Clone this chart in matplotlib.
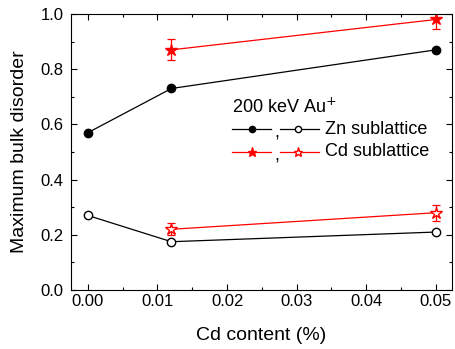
import matplotlib.pyplot as plt
from matplotlib.ticker import MultipleLocator

plt.rcParams['font.family'] = ['Liberation Sans', 'DejaVu Sans']

# Data
cd_content = [0.0, 0.012, 0.05]
zn_max = [0.57, 0.73, 0.87]
zn_low = [0.27, 0.175, 0.21]

cd_x = [0.012, 0.05]
cd_max = [0.87, 0.98]
cd_max_err = [0.038, 0.035]
cd_low = [0.22, 0.28]
cd_low_err = [0.022, 0.029]

fig, ax = plt.subplots(figsize=(4.55, 3.49), dpi=100)
fig.subplots_adjust(left=0.155, right=0.993, top=0.960, bottom=0.169)

# Zn sublattice
ax.plot(cd_content, zn_max, "-o", color="black", lw=0.9, ms=6, mfc="black")
ax.plot(cd_content, zn_low, "-o", color="black", lw=0.9, ms=6, mfc="white")

# Cd sublattice with error bars
ax.errorbar(cd_x, cd_max, yerr=cd_max_err, fmt="-*", color="red", lw=0.9,
            ms=9, mfc="red", capsize=3, elinewidth=0.9, capthick=0.9)
ax.errorbar(cd_x, cd_low, yerr=cd_low_err, fmt="-*", color="red", lw=0.9,
            ms=9, mfc="white", capsize=3, elinewidth=0.9, capthick=0.9)

ax.set_xlim(-0.0025, 0.0523)
ax.set_ylim(0.0, 1.0)
ax.xaxis.set_major_locator(MultipleLocator(0.01))
ax.xaxis.set_minor_locator(MultipleLocator(0.005))
ax.yaxis.set_major_locator(MultipleLocator(0.2))
ax.yaxis.set_minor_locator(MultipleLocator(0.1))
ax.xaxis.set_major_formatter(plt.FormatStrFormatter("%.2f"))
ax.yaxis.set_major_formatter(plt.FormatStrFormatter("%.1f"))
ax.tick_params(which="both", direction="in", top=True, right=True, labelsize=12)
ax.tick_params(which="major", length=4, width=0.8)
ax.tick_params(which="minor", length=2.5, width=0.8)
ax.tick_params(axis="x", pad=3)
ax.tick_params(axis="y", pad=5)

ax.set_xlabel("Cd content (%)", fontsize=14, labelpad=13)
ax.set_ylabel("Maximum bulk disorder", fontsize=14, labelpad=9)

# Hand-drawn legend
ax.text(0.424, 0.664, "200 keV Au$^{+}$", transform=ax.transAxes, fontsize=13, va="center")
for fy, col, mk, ms, label in [(0.582, "black", "o", 4.5, "Zn sublattice"),
                               (0.501, "red", "*", 6.5, "Cd sublattice")]:
    ax.plot([0.424, 0.527], [fy, fy], color=col, lw=0.9, transform=ax.transAxes, clip_on=False)
    ax.plot([0.475], [fy], mk, color=col, mfc=col, ms=ms, transform=ax.transAxes, clip_on=False)
    ax.text(0.535, fy - 0.015, ",", transform=ax.transAxes, fontsize=13, va="center")
    ax.plot([0.549, 0.652], [fy, fy], color=col, lw=0.9, transform=ax.transAxes, clip_on=False)
    ax.plot([0.597], [fy], mk, color=col, mfc="white", ms=ms, transform=ax.transAxes, clip_on=False)
    ax.text(0.667, fy, label, transform=ax.transAxes, fontsize=13, va="center")

plt.savefig("out.png", dpi=100)
